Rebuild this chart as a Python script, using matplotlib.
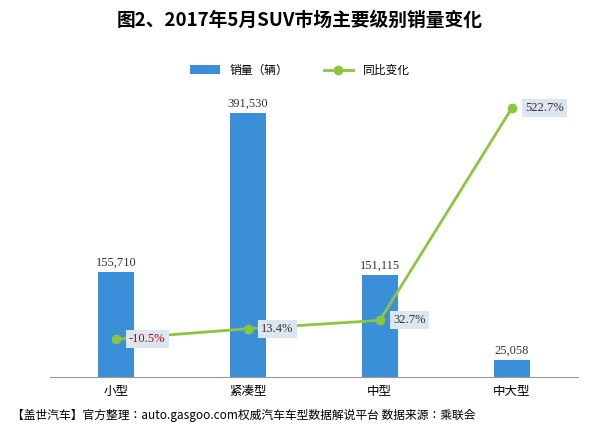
import matplotlib
matplotlib.use("Agg")
import matplotlib.pyplot as plt
from matplotlib import font_manager

cjk = [f.name for f in font_manager.fontManager.ttflist if "CJK" in f.name or "Noto Sans SC" in f.name]
cjk_name = sorted(cjk)[0] if cjk else "DejaVu Sans"
plt.rcParams["font.family"] = [cjk_name, "DejaVu Sans"]

categories = ["小型", "紧凑型", "中型", "中大型"]
sales = [155710, 391530, 151115, 25058]
yoy = [-10.5, 13.4, 32.7, 522.7]
yoy_labels = ["-10.5%", "13.4%", "32.7%", "522.7%"]

fig = plt.figure(figsize=(6, 4.44), dpi=100)
ax = fig.add_axes([0.083, 0.151, 0.88, 0.669])
x = list(range(len(categories)))

ax.bar(x, sales, width=0.27, color="#3a8fd8", label="销量（辆）", zorder=2)
ax.set_ylim(0, 440000)
ax.set_xlim(-0.5, 3.5)
ax.set_yticks([])
for s in ["top", "right", "left"]:
    ax.spines[s].set_visible(False)
ax.spines["bottom"].set_color("#999999")
ax.set_xticks(x)
ax.set_xticklabels(categories, fontsize=9)
ax.tick_params(axis="x", length=0, pad=6)
for i, v in enumerate(sales):
    ax.text(i, v + 5000, f"{v:,}", ha="center", va="bottom", fontsize=9,
            family="Liberation Serif", color="#333333")

ax2 = ax.twinx()
ax2.plot(x, yoy, color="#8cc63f", lw=2, marker="o", ms=6, label="同比变化", zorder=3)
ax2.set_ylim(-98, 588)
ax2.set_yticks([])
for s in ["top", "right", "left", "bottom"]:
    ax2.spines[s].set_visible(False)
for i, (v, t) in enumerate(zip(yoy, yoy_labels)):
    ax2.text(i + 0.1, v, t, ha="left", va="center", fontsize=9,
             family="Liberation Serif", color="#c00000" if v < 0 else "#333333",
             bbox=dict(boxstyle="square,pad=0.25", fc="#dce6f0", ec="none"))

h1, l1 = ax.get_legend_handles_labels()
h2, l2 = ax2.get_legend_handles_labels()
fig.legend(h1 + h2, l1 + l2, loc="center", bbox_to_anchor=(0.5, 0.842), ncol=2,
           frameon=False, fontsize=8.5, handlelength=2.5, columnspacing=3)

fig.text(0.5, 0.955, "图2、2017年5月SUV市场主要级别销量变化", ha="center", va="center",
         fontsize=13.5, fontweight="bold")
fig.text(0.02, 0.065, "【盖世汽车】官方整理：auto.gasgoo.com权威汽车车型数据解说平台 数据来源：乘联会",
         ha="left", va="center", fontsize=8.5, style="italic")

fig.savefig("out.png", dpi=100)
